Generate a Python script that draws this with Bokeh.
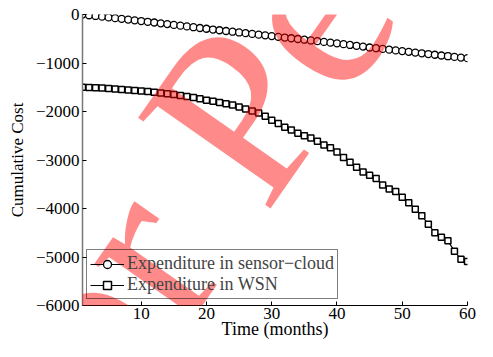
from bokeh.plotting import figure
from bokeh.models import Label, FixedTicker, Range1d
from bokeh.embed import file_html
from bokeh.resources import INLINE

months = list(range(1, 61))

sensor_cloud = [0, -15, -30, -45, -60, -75, -90, -105, -120, -135,
                -150, -165, -182, -198, -214, -230, -246, -262, -278, -294,
                -310, -325, -340, -355, -370, -385, -400, -415, -430, -445,
                -460, -475, -490, -505, -520, -535, -550, -565, -580, -595,
                -612, -628, -645, -662, -680, -695, -710, -725, -740, -755,
                -770, -785, -800, -815, -830, -845, -860, -875, -888, -900]

wsn = [-1500, -1505, -1510, -1518, -1525, -1535, -1545, -1555, -1565, -1578,
       -1590, -1605, -1620, -1635, -1652, -1670, -1690, -1712, -1735, -1767,
       -1790, -1815, -1840, -1868, -1905, -1950, -1990, -2030, -2100, -2180,
       -2247, -2327, -2380, -2447, -2500, -2547, -2613, -2693, -2747, -2833,
       -2947, -3047, -3147, -3247, -3313, -3380, -3513, -3600, -3647, -3767,
       -3880, -4013, -4147, -4327, -4500, -4593, -4667, -4880, -5047, -5093]

x_ticks = [10, 20, 30, 40, 50, 60]
y_ticks = [-6000, -5000, -4000, -3000, -2000, -1000, 0]

label_sc = "Expenditure in sensor\u2212cloud"
label_wsn = "Expenditure in WSN"
x_title = "Time (months)"
y_title = "Cumulative Cost"
watermark = "For Peer Review"

FONT = "Liberation Serif"

p = figure(width=477, height=341, output_backend="svg", toolbar_location=None,
           x_range=Range1d(1, 60), y_range=Range1d(-6000, 0),
           min_border_left=82, min_border_right=10, min_border_top=14,
           min_border_bottom=30)
p.grid.visible = False
p.outline_line_color = None
p.background_fill_color = "white"
p.border_fill_color = "white"

# series
p.line(months, sensor_cloud, line_color="black", line_width=1.2, legend_label=label_sc)
p.scatter(months, sensor_cloud, marker="circle", size=7, fill_color="white",
          line_color="black", line_width=1.3, legend_label=label_sc)
p.line(months, wsn, line_color="black", line_width=1.2, legend_label=label_wsn)
p.scatter(months, wsn, marker="square", size=6, fill_color="white",
          line_color="black", line_width=1.5, legend_label=label_wsn)

# axes
xa = p.xaxis[0]
xa.ticker = FixedTicker(ticks=x_ticks)
xa.major_label_overrides = {t: str(t) for t in x_ticks}
xa.major_tick_in = 4
xa.major_tick_out = 0
xa.minor_tick_in = 0
xa.minor_tick_out = 0
xa.major_label_standoff = 2
xa.major_label_text_font = FONT
xa.major_label_text_font_size = "17px"
xa.major_label_text_color = "black"
xa.axis_line_color = "black"
xa.major_tick_line_color = "black"
xa.axis_label = x_title
xa.axis_label_text_font = FONT
xa.axis_label_text_font_size = "18px"
xa.axis_label_text_font_style = "normal"
xa.axis_label_text_color = "black"
xa.axis_label_standoff = -3

ya = p.yaxis[0]
ya.ticker = FixedTicker(ticks=y_ticks)
ya.major_label_overrides = {t: str(t).replace("-", "\u2212") for t in y_ticks}
ya.major_tick_in = 4
ya.major_tick_out = 0
ya.minor_tick_in = 0
ya.minor_tick_out = 0
ya.major_label_standoff = 3
ya.major_label_text_font = FONT
ya.major_label_text_font_size = "17px"
ya.major_label_text_color = "black"
ya.axis_line_color = "#777777"
ya.axis_line_width = 1.5
ya.major_tick_line_color = "black"
ya.axis_label = y_title
ya.axis_label_text_font = FONT
ya.axis_label_text_font_size = "17px"
ya.axis_label_text_font_style = "normal"
ya.axis_label_text_color = "black"
ya.axis_label_standoff = 6

# legend (transparent fill so the watermark shows through it)
lg = p.legend[0]
lg.location = (4, 6)
lg.label_text_font = FONT
lg.label_text_font_size = "18px"
lg.border_line_color = "black"
lg.border_line_width = 1.2
lg.background_fill_alpha = 0.0
lg.glyph_width = 34
lg.glyph_height = 20
lg.label_height = 20
lg.label_standoff = 3
lg.spacing = 0
lg.padding = 3
lg.margin = 0

# watermark (drawn over everything)
p.add_layout(Label(x=-16.62, y=-9952, text=watermark, angle=0.96,
                   text_font=FONT, text_font_size="245px",
                   text_color="red", text_alpha=0.46,
                   text_align="left", text_baseline="alphabetic",
                   level="overlay"))

open("out.html", "w").write(file_html(p, INLINE))
